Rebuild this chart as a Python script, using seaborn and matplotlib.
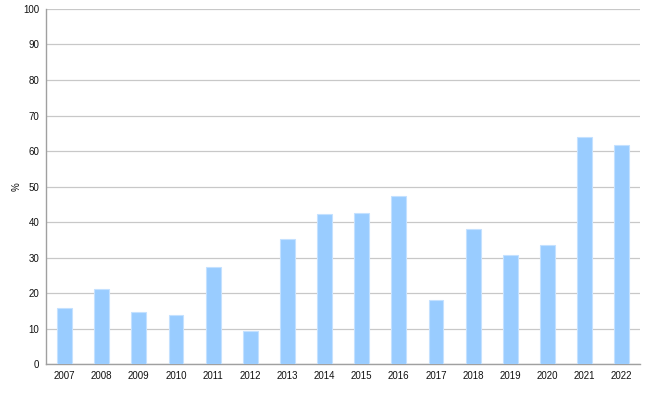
import matplotlib
matplotlib.use("Agg")
import matplotlib.pyplot as plt
import seaborn as sns
import pandas as pd

years = ["2007", "2008", "2009", "2010", "2011", "2012", "2013", "2014",
         "2015", "2016", "2017", "2018", "2019", "2020", "2021", "2022"]
values = [15.9, 21.2, 14.8, 14.0, 27.4, 9.5, 35.2, 42.2,
          42.6, 47.3, 18.1, 38.1, 30.9, 33.7, 64.1, 61.7]
y_ticks = [0, 10, 20, 30, 40, 50, 60, 70, 80, 90, 100]

sns.set_theme(style="white")
plt.rcParams['font.family'] = ['Liberation Sans', 'DejaVu Sans']

df = pd.DataFrame({"year": years, "value": values})

fig = plt.figure(figsize=(6.5, 4.04), dpi=100)
ax = fig.add_axes([0.0708, 0.0978, 0.9142, 0.8802])

sns.barplot(data=df, x="year", y="value", color="#99ccff", saturation=1,
            width=0.4, edgecolor="#c4e1ff", linewidth=0.8, ax=ax, zorder=3)

ax.set_ylim(0, 100)
ax.set_xlim(-0.5, len(years) - 0.5)
ax.set_yticks(y_ticks)
ax.set_yticklabels([str(t) for t in y_ticks])
ax.yaxis.grid(True, color="#c8c8c8", linewidth=0.9, zorder=0)
ax.xaxis.grid(False)
ax.set_axisbelow(True)

for s in ["top", "right"]:
    ax.spines[s].set_visible(False)
for s in ["left", "bottom"]:
    ax.spines[s].set_color("#a0a0a0")
    ax.spines[s].set_linewidth(1.0)

ax.tick_params(axis="both", length=0, labelsize=7, colors="#111111", pad=5)
ax.set_xlabel("")
ax.set_ylabel("%", fontsize=7, color="#111111", labelpad=1)

fig.savefig("out.png", dpi=100)
